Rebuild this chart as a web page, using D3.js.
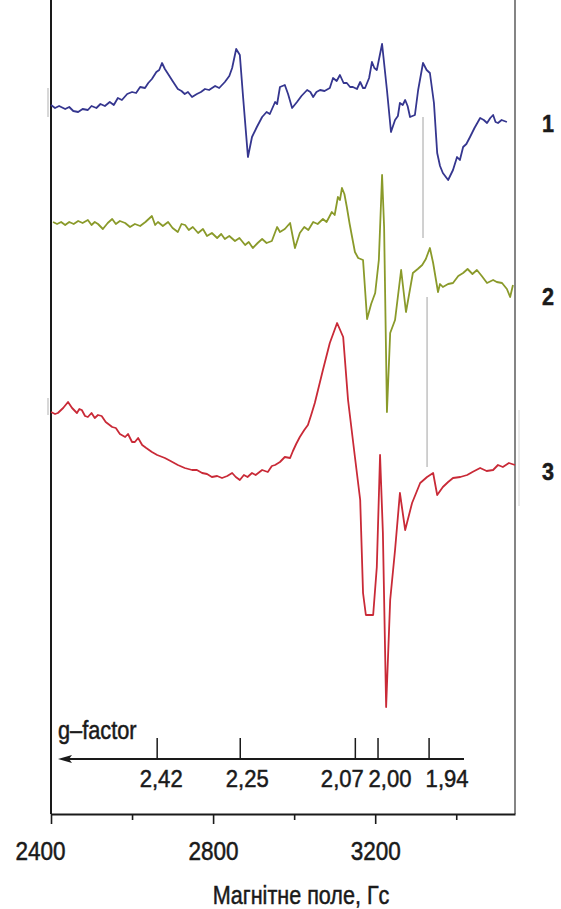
<!DOCTYPE HTML>
<html>
<head>
<meta charset="utf-8">
<style>
  body { margin: 0; background: #fff; }
  svg text { font-family: "Liberation Sans", Arial, sans-serif; fill: #1a1a1a; stroke: #1a1a1a; stroke-width: 0.5px; }
  .trace { fill: none; stroke-width: 1.8; stroke-linejoin: round; }
</style>
<script src="https://d3js.org/d3.v7.min.js"></script>
</head>
<body>
<svg width="561" height="909"></svg>
<script>
// magnetic field, G, and signal (a.u., relative to the trace's own baseline)
var field1 = [2400,2410,2420,2435,2445,2455,2467,2478,2491,2500,2512,2522,2533,2545,2555,2565,2575,2588,2600,2610,2620,2632,2640,2649,2660,2667,2674,2681,2689,2700,2713,2722,2730,2738,2748,2760,2770,2780,2790,2805,2815,2829,2840,2847,2857,2866,2874,2886,2896,2908,2921,2932,2940,2953,2958,2965,2977,2985,2995,3007,3018,3032,3040,3047,3055,3064,3075,3088,3096,3105,3113,3122,3130,3138,3145,3155,3163,3170,3175,3185,3192,3198,3204,3217,3229,3239,3249,3256,3261,3268,3274,3280,3286,3298,3306,3318,3327,3335,3345,3353,3360,3367,3380,3392,3402,3409,3417,3425,3434,3445,3459,3468,3476,3484,3491,3497,3503,3512,3525];
var signal1 = [9,6,8,5,7,3,2,5,4,8,6,10,8,12,9,16,14,20,22,21,27,26,31,35,42,44,51,45,40,33,25,23,20,22,17,20,22,25,24,28,26,32,38,46,65,59,17,-43,-23,-13,-3,2,0,12,10,27,29,20,6,12,18,24,22,17,22,24,23,26,36,33,39,31,31,27,27,25,32,26,26,36,52,46,44,70,24,-18,-6,-2,11,9,14,8,-3,-1,24,51,44,41,11,-39,-52,-59,-66,-56,-43,-46,-33,-30,-23,-14,-4,-6,-9,-4,-1,-8,-9,-6,-8];

var field2 = [2405,2415,2425,2435,2445,2456,2467,2478,2491,2500,2508,2516,2528,2540,2551,2560,2570,2583,2595,2607,2620,2633,2649,2657,2664,2676,2689,2700,2713,2722,2731,2740,2750,2763,2775,2785,2797,2810,2820,2829,2840,2854,2865,2879,2888,2898,2910,2921,2932,2945,2958,2965,2977,2990,3002,3014,3025,3035,3047,3058,3071,3080,3093,3100,3108,3113,3118,3124,3130,3137,3143,3150,3158,3170,3180,3190,3200,3209,3217,3222,3229,3237,3249,3264,3276,3293,3305,3316,3325,3335,3343,3355,3360,3367,3380,3392,3405,3417,3428,3440,3451,3463,3476,3491,3500,3513,3525,3533,3540];
var signal2 = [2,0,2,-1,2,0,3,1,4,-1,2,0,-5,1,5,0,3,1,-3,0,-2,2,8,-1,2,-2,2,-4,-8,0,-1,-6,-3,-9,-5,-12,-9,-14,-10,-15,-12,-17,-14,-21,-18,-24,-19,-15,-19,-17,-3,-8,-5,1,-24,-9,-3,-6,2,0,5,2,12,9,27,24,36,30,17,0,-13,-28,-34,-36,-95,-80,-69,-36,49,-3,-188,-109,-96,-46,-88,-49,-45,-41,-35,-24,-39,-68,-60,-63,-60,-59,-52,-49,-45,-50,-46,-52,-59,-56,-58,-59,-65,-73,-61];

var field3 = [2400,2410,2417,2430,2442,2452,2464,2470,2476,2484,2491,2500,2508,2516,2525,2535,2551,2560,2570,2583,2590,2600,2607,2615,2625,2635,2649,2662,2681,2695,2713,2730,2748,2760,2773,2785,2797,2810,2822,2835,2847,2856,2866,2876,2885,2896,2905,2921,2935,2945,2953,2965,2977,2990,2997,3005,3014,3025,3034,3042,3051,3071,3088,3106,3121,3133,3150,3163,3170,3177,3195,3204,3212,3219,3227,3237,3249,3261,3274,3291,3311,3328,3343,3353,3367,3380,3392,3410,3427,3440,3459,3475,3491,3503,3515,3530,3545];
var signal3 = [2,0,1,6,12,6,1,5,4,-2,-3,1,-4,-1,-2,-8,-13,-14,-20,-23,-20,-28,-28,-24,-31,-34,-38,-41,-44,-47,-51,-54,-56,-56,-59,-60,-63,-62,-64,-62,-59,-63,-66,-61,-63,-59,-61,-56,-58,-52,-51,-48,-43,-44,-37,-30,-23,-16,-11,-1,11,44,71,91,77,14,-43,-86,-179,-201,-201,-153,-41,-119,-293,-186,-136,-79,-116,-89,-69,-63,-59,-81,-73,-68,-64,-63,-61,-58,-54,-57,-56,-51,-53,-49,-51];

var seriesNames = ["1", "2", "3"];
var seriesColors = ["#35368f", "#8a9a2a", "#c92a37"];
var seriesOffsets = [700, 590, 400];
var nameLevels = [682, 509, 334];

// g-factor scale: labels and the field where each tick sits
var gLabels = ["2,42", "2,25", "2,07", "2,00", "1,94"];
var gFields = [2662, 2867, 3151, 3207, 3333];
var gLabelShift = [4, 7, -13, 12, 18];

var fieldTicks = [2400, 2600, 2800, 3000, 3200, 3400];
var fieldLabels = ["2400", "", "2800", "", "3200", ""];

// thin grey guide lines (field, from, to)
var guideFields = [3318, 3328];
var guideFrom = [697, 517];
var guideTo = [576, 347];

var svg = d3.select("svg");
var left = 51, right = 515, bottom = 814;

var x = d3.scaleLinear().domain([2400, 3545]).range([left, right]);
var y = d3.scaleLinear().domain([0, 800]).range([bottom, 14]);

function label(px, py, txt, size, anchor, sx, weight) {
    return svg.append("text")
       .attr("transform", "translate(" + px + "," + py + ") scale(" + sx + ",1)")
       .attr("text-anchor", anchor)
       .attr("font-size", size)
       .attr("font-weight", weight || "normal")
       .text(txt);
}

// frame
svg.append("line").attr("x1", left).attr("x2", left).attr("y1", 0).attr("y2", bottom)
   .attr("stroke", "#1a1a1a").attr("stroke-width", 2);
svg.append("line").attr("x1", right).attr("x2", right).attr("y1", 0).attr("y2", bottom)
   .attr("stroke", "#333").attr("stroke-width", 1.2);
svg.append("line").attr("x1", right + 4).attr("x2", right + 4).attr("y1", 410).attr("y2", 506)
   .attr("stroke", "#d4d4d4").attr("stroke-width", 1);
// faint scan marks left of the frame
svg.append("line").attr("x1", left - 3).attr("x2", left - 3).attr("y1", 88).attr("y2", 117)
   .attr("stroke", "#d8d8d8").attr("stroke-width", 2);
svg.append("line").attr("x1", left - 3).attr("x2", left - 3).attr("y1", 398).attr("y2", 415)
   .attr("stroke", "#d8d8d8").attr("stroke-width", 2);

// bottom field axis
var axis = svg.append("g")
   .attr("transform", "translate(0," + bottom + ")")
   .call(d3.axisBottom(x).tickValues(fieldTicks)
         .tickFormat(function(d, i) { return fieldLabels[i]; })
         .tickSize(10).tickSizeOuter(0));
axis.select(".domain").attr("stroke", "#1a1a1a").attr("stroke-width", 2);
axis.selectAll(".tick line")
    .attr("stroke", "#1a1a1a").attr("stroke-width", 1.6)
    .attr("y2", function(d, i) { return fieldLabels[i] ? 10 : 6; });
axis.selectAll(".tick text")
    .attr("transform", function(d, i) { return "translate(" + (i === 0 ? -11 : 0) + ",0) scale(0.9,1)"; })
    .attr("y", 46).attr("dy", 0)
    .attr("font-size", "25px")
    .attr("font-family", "Liberation Sans, Arial, sans-serif")
    .attr("fill", "#1a1a1a");

label(301, 904, "Магнітне поле, Гс", "26px", "middle", 0.83);

// g-factor axis
var gy = 759;
svg.append("line").attr("x1", 66).attr("x2", 464).attr("y1", gy).attr("y2", gy)
   .attr("stroke", "#1a1a1a").attr("stroke-width", 1.8);
svg.append("path")
   .attr("d", "M58," + gy + " L72," + (gy - 4) + " L69," + gy + " L72," + (gy + 4) + " Z")
   .attr("fill", "#1a1a1a");
var gt = svg.selectAll(".gtick").data(gFields).enter().append("g")
   .attr("class", "gtick")
   .attr("transform", function(d) { return "translate(" + x(d) + "," + gy + ")"; });
gt.append("line").attr("y1", 0).attr("y2", -21).attr("stroke", "#1a1a1a").attr("stroke-width", 1.5);
gt.append("text")
  .attr("transform", function(d, i) { return "translate(" + gLabelShift[i] + ",28) scale(0.92,1)"; })
  .attr("text-anchor", "middle")
  .attr("font-size", "24px")
  .text(function(d, i) { return gLabels[i]; });
label(58, 739, "g–factor", "25px", "start", 0.87);

// grey guide lines
svg.selectAll(".guide").data(guideFields).enter().append("line")
   .attr("class", "guide")
   .attr("x1", function(d) { return x(d); }).attr("x2", function(d) { return x(d); })
   .attr("y1", function(d, i) { return y(guideFrom[i]); })
   .attr("y2", function(d, i) { return y(guideTo[i]); })
   .attr("stroke", "#b8b8b8").attr("stroke-width", 1.3);

// traces
var fields = [field1, field2, field3];
var signals = [signal1, signal2, signal3];
var line = d3.line()
   .x(function(d) { return x(d[0]); })
   .y(function(d) { return y(d[1]); });

fields.forEach(function(f, k) {
    var pts = f.map(function(b, i) { return [b, signals[k][i] + seriesOffsets[k]]; });
    svg.append("path")
       .attr("class", "trace")
       .attr("d", line(pts))
       .attr("stroke", seriesColors[k]);
    label(548, y(nameLevels[k]), seriesNames[k], "24px", "middle", 0.9, "bold");
});
</script>
</body>
</html>
